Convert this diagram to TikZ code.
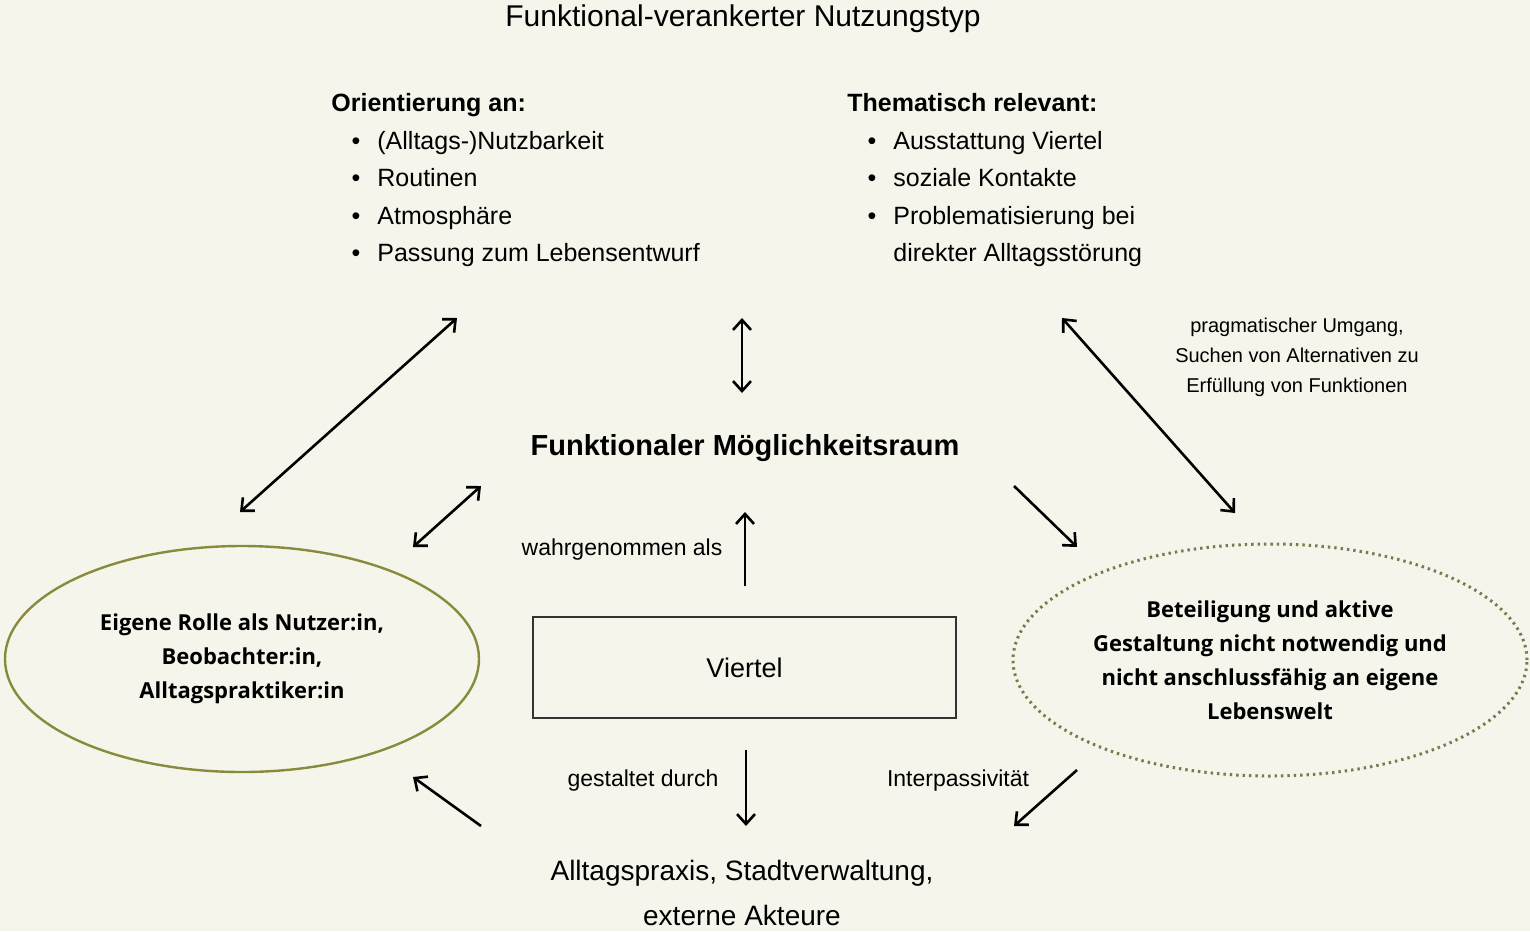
\documentclass[tikz,border=0pt]{standalone}
\usepackage{fontspec}
\setmainfont{Liberation Sans}
\newfontfamily\osb{Open Sans}
\usetikzlibrary{arrows.meta,shapes.geometric}
\definecolor{bg}{HTML}{F5F5EC}
\definecolor{olive}{HTML}{8A8A3C}
\definecolor{olived}{HTML}{7A7A4C}
\begin{document}
\begin{tikzpicture}[x=0.5pt,y=-0.5pt,
 tip/.style={},
 arr/.style={line width=1.3pt,-{Straight Barb[length=5pt,width=9pt,line width=1.3pt]}},
 darr/.style={line width=1.3pt,{Straight Barb[length=5pt,width=9pt,line width=1.3pt]}-{Straight Barb[length=5pt,width=9pt,line width=1.3pt]}},
 item/.style={anchor=base west,inner sep=0pt,font=\fontsize{12.5}{15}\selectfont},
 bul/.style={anchor=base,inner sep=0pt,font=\fontsize{12.5}{15}\selectfont},
 hd/.style={anchor=base west,inner sep=0pt,font=\fontsize{12.5}{15}\selectfont\bfseries},
 lbl/.style={inner sep=0pt,font=\fontsize{11.5}{14}\selectfont},
 ell/.style={ellipse,line width=1.2pt,inner sep=0pt,align=center,font=\osb\bfseries\fontsize{11}{17}\selectfont},
]
\fill[bg] (0,0) rectangle (1530,931);
\useasboundingbox (0,0) rectangle (1530,931);

\node[anchor=base,inner sep=0pt,font=\fontsize{15}{18}\selectfont] (title) at (743,27) {Funktional-verankerter Nutzungstyp};

\node[hd] (h1) at (331,112) {Orientierung an:};
\foreach \n/\y/\t in {a/149/(Alltags-)Nutzbarkeit,b/186/Routinen,c/224/Atmosphäre,d/261/Passung zum Lebensentwurf}{
  \node[bul] (b1\n) at (356,\y) {\textbullet};
  \node[item] (i1\n) at (377,\y) {\t};
}
\node[hd] (h2) at (847,112) {Thematisch relevant:};
\foreach \n/\y/\t in {a/149/Ausstattung Viertel,b/186/soziale Kontakte,c/224/Problematisierung bei}{
  \node[bul] (b2\n) at (872,\y) {\textbullet};
  \node[item] (i2\n) at (893,\y) {\t};
}
\node[item] (i2d) at (893,261) {direkter Alltagsstörung};

\node[align=center,inner sep=0pt,font=\fontsize{10}{15}\selectfont] (prag) at (1297,357) {pragmatischer Umgang,\\Suchen von Alternativen zu\\Erfüllung von Funktionen};

\node[inner sep=0pt,font=\fontsize{14.5}{17}\selectfont\bfseries] (raum) at (745,448) {Funktionaler Möglichkeitsraum};

\node[ell,draw=olive,minimum width=237pt,minimum height=113pt] (rolle) at (242,659) {Eigene Rolle als Nutzer:in,\\Beobachter:in,\\Alltagspraktiker:in};
\node[ell,draw=olived,dotted,line width=1.5pt,minimum width=257pt,minimum height=116pt] (bet) at (1270,660) {Beteiligung und aktive\\Gestaltung nicht notwendig und\\nicht anschlussfähig an eigene\\Lebenswelt};

\node[draw=black!80,line width=1.2pt,minimum width=211.5pt,minimum height=50.5pt,inner sep=0pt,font=\fontsize{13.5}{16}\selectfont] (viertel) at (744.5,667.5) {Viertel};

\node[align=center,inner sep=0pt,font=\fontsize{14}{22.5}\selectfont] (akt) at (742,893) {Alltagspraxis, Stadtverwaltung,\\externe Akteure};

\node[lbl] (wahr) at (622,550) {wahrgenommen als};
\node[lbl] (gest) at (643,781) {gestaltet durch};
\node[lbl] (inter) at (958,781) {Interpassivität};

\coordinate (a1s) at (240,512); \coordinate (a1e) at (457,318);
\coordinate (a2s) at (742,393); \coordinate (a2e) at (742,318);
\coordinate (a3s) at (1235,513); \coordinate (a3e) at (1062,318);
\coordinate (a4s) at (413,547); \coordinate (a4e) at (481,486);
\coordinate (a5s) at (745,586); \coordinate (a5e) at (745,512);
\coordinate (a6s) at (1014,486); \coordinate (a6e) at (1077,547);
\coordinate (a7s) at (746,750); \coordinate (a7e) at (746,826);
\coordinate (a8s) at (481,826); \coordinate (a8e) at (413,777);
\coordinate (a9s) at (1077,770); \coordinate (a9e) at (1014,826);

\draw[darr] (a1s) -- (a1e);
\draw[darr] (a2s) -- (a2e);
\draw[darr] (a3s) -- (a3e);
\draw[darr] (a4s) -- (a4e);
\draw[arr] (a5s) -- (a5e);
\draw[arr] (a6s) -- (a6e);
\draw[arr] (a7s) -- (a7e);
\draw[arr] (a8s) -- (a8e);
\draw[arr] (a9s) -- (a9e);
\end{tikzpicture}
\end{document}
